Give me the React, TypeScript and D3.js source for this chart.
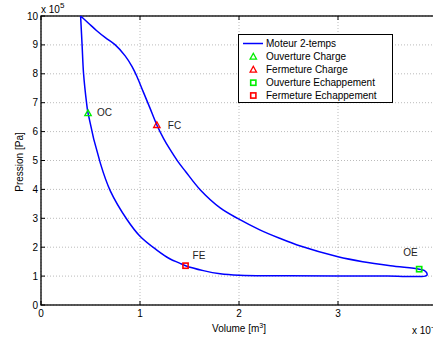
import React from "react";
import * as d3 from "d3";

// Volume (x 1e-4 m^3), Pressure (x 1e5 Pa)
const cycleVolume = [
  0.40, 0.48, 0.56, 0.65, 0.75, 0.85, 0.92, 0.97, 1.03, 1.10, 1.17, 1.24, 1.30, 1.38, 1.46, 1.61, 1.81, 2.00, 2.21, 2.41, 2.62, 3.00, 3.25, 3.53, 3.82, 3.87, 3.895, 3.90, 3.88,
  3.50, 3.00, 2.50, 2.00, 1.81, 1.64, 1.46, 1.40, 1.30, 1.17, 1.00, 0.87, 0.70, 0.60, 0.475, 0.46, 0.43, 0.415, 0.40,
];
const cyclePressure = [
  10.0, 9.75, 9.5, 9.25, 9.0, 8.62, 8.25, 7.9, 7.4, 6.82, 6.23, 5.75, 5.40, 4.98, 4.62, 3.98, 3.36, 2.97, 2.60, 2.31, 2.04, 1.67, 1.50, 1.36, 1.24, 1.20, 1.12, 1.04, 1.0,
  1.0, 1.0, 1.01, 1.03, 1.08, 1.19, 1.36, 1.45, 1.60, 1.90, 2.38, 2.95, 3.95, 4.9, 6.64, 7.0, 8.0, 9.0, 10.0,
];

const markerNames = ["OC", "FC", "OE", "FE"];
const markerVolume = [0.475, 1.17, 3.82, 1.46];
const markerPressure = [6.64, 6.23, 1.24, 1.36];
const markerShape = ["tri", "tri", "sq", "sq"];
const markerColor = ["#00ee00", "#ff0000", "#00ee00", "#ff0000"];

const legendLabels = ["Moteur 2-temps", "Ouverture Charge", "Fermeture Charge", "Ouverture Echappement", "Fermeture Echappement"];

const xTicks = [0, 1, 2, 3, 4];
const yTicks = [0, 1, 2, 3, 4, 5, 6, 7, 8, 9, 10];

const W = 433, H = 341;
const font = "Liberation Sans, Arial, Helvetica, sans-serif";

function Marker({ shape, color, cx, cy }: { shape: string; color: string; cx: number; cy: number }) {
  if (shape === "tri") {
    const s = 3.2;
    return <path d={`M${cx},${cy - s} L${cx + s},${cy + s * 0.8} L${cx - s},${cy + s * 0.8} Z`} fill="none" stroke={color} strokeWidth={1.3} />;
  }
  const s = 2.6;
  return <rect x={cx - s} y={cy - s} width={2 * s} height={2 * s} fill="none" stroke={color} strokeWidth={1.6} />;
}

export default function App() {
  const x = d3.scaleLinear().domain([0, 4]).range([41, 437]);
  const y = d3.scaleLinear().domain([0, 10]).range([305, 16]);
  const pts: [number, number][] = cycleVolume.map((v, i) => [v, cyclePressure[i]]);
  const line = d3.line<[number, number]>().x((d) => x(d[0])).y((d) => y(d[1])).curve(d3.curveCatmullRom.alpha(0.5));

  const labelOffsets: [number, number][] = [[9, 3], [11, 4], [-16, -13], [7, -7]];

  const lgX = 238.5, lgY = 34.5, lgW = 154, lgH = 68;
  const rowY = [43.5, 56.5, 69.5, 82.7, 95.5];

  return (
    <svg width={W} height={H} style={{ position: "absolute", left: 0, top: 0, background: "#fff" }} fontFamily={font}>
      <rect x={0} y={0} width={W} height={H} fill="#fff" />
      {/* grid */}
      {xTicks.map((t) => (
        <line key={"gx" + t} x1={x(t)} x2={x(t)} y1={y(0)} y2={y(10)} stroke="#aaa" strokeWidth={0.8} strokeDasharray="1,2" />
      ))}
      {yTicks.map((t) => (
        <line key={"gy" + t} x1={x(0)} x2={x(4)} y1={y(t)} y2={y(t)} stroke="#aaa" strokeWidth={0.8} strokeDasharray="1,2" />
      ))}
      {/* ticks */}
      {xTicks.map((t) => (
        <g key={"tx" + t}>
          <line x1={x(t)} x2={x(t)} y1={y(0)} y2={y(0) - 4} stroke="#000" />
          <line x1={x(t)} x2={x(t)} y1={y(10)} y2={y(10) + 4} stroke="#000" />
          <text x={x(t)} y={317} fontSize={10} textAnchor="middle" fill="#000">{t < 4 ? t : ""}</text>
        </g>
      ))}
      {yTicks.map((t) => (
        <g key={"ty" + t}>
          <line x1={x(0)} x2={x(0) + 4} y1={y(t)} y2={y(t)} stroke="#000" />
          <text x={38} y={y(t) + 3.5} fontSize={10} textAnchor="end" fill="#000">{t}</text>
        </g>
      ))}
      {/* frame */}
      <rect x={x(0)} y={y(10)} width={x(4) - x(0)} height={y(0) - y(10)} fill="none" stroke="#000" strokeWidth={1.3} />
      {/* cycle */}
      <path d={line(pts) || ""} fill="none" stroke="#0000ff" strokeWidth={1.5} />
      {/* markers */}
      {markerNames.map((n, i) => (
        <g key={n}>
          <Marker shape={markerShape[i]} color={markerColor[i]} cx={x(markerVolume[i])} cy={y(markerPressure[i])} />
          <text x={x(markerVolume[i]) + labelOffsets[i][0]} y={y(markerPressure[i]) + labelOffsets[i][1]} fontSize={10} fill="#222">{n}</text>
        </g>
      ))}
      {/* exponents */}
      <text x={41} y={13} fontSize={10} fill="#000">x 10<tspan dy={-5} fontSize={8}>5</tspan></text>
      <text x={412} y={334} fontSize={10} fill="#000">x 10<tspan dy={-5} fontSize={8}>-4</tspan></text>
      {/* axis labels */}
      <text x={239} y={331.5} fontSize={10} textAnchor="middle" fill="#000">Volume [m<tspan dy={-4} fontSize={7}>3</tspan><tspan dy={4}>]</tspan></text>
      <text transform="translate(23,162) rotate(-90)" fontSize={10} textAnchor="middle" fill="#000">Pression [Pa]</text>
      {/* legend */}
      <rect x={lgX} y={lgY} width={lgW} height={lgH} fill="#fff" stroke="#000" strokeWidth={1} />
      {legendLabels.map((l, i) => (
        <g key={l}>
          {i === 0 ? (
            <line x1={243} x2={263} y1={rowY[i]} y2={rowY[i]} stroke="#0000ff" strokeWidth={1.5} />
          ) : (
            <Marker shape={markerShape[i - 1]} color={markerColor[i - 1]} cx={253.3} cy={rowY[i]} />
          )}
          <text x={266} y={rowY[i] + 3.5} fontSize={10} fill="#000">{l}</text>
        </g>
      ))}
    </svg>
  );
}
